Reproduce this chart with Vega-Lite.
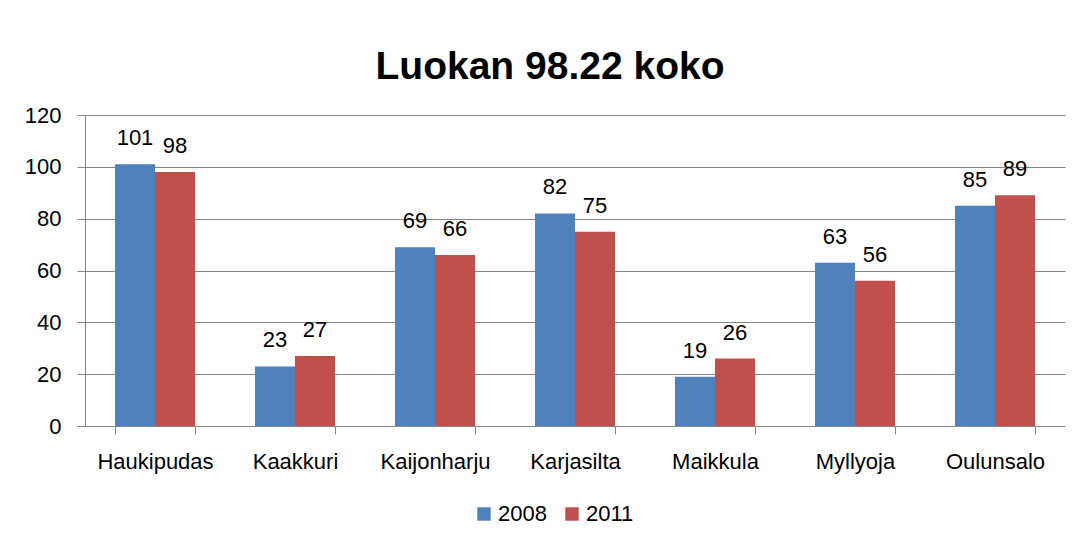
{
  "$schema": "https://vega.github.io/schema/vega-lite/v6.json",
  "autosize": "none",
  "width": 980,
  "height": 311,
  "padding": {"left": 85, "top": 115, "right": 18, "bottom": 121},
  "background": "white",
  "title": {
    "text": "Luokan 98.22 koko",
    "font": "Liberation Sans",
    "fontSize": 39,
    "fontWeight": "bold",
    "color": "black",
    "frame": "group",
    "anchor": "middle",
    "baseline": "alphabetic",
    "offset": -14,
    "dx": -25
  },
  "data": {
    "values": [
      {"area": "Haukipudas", "year": "2008", "value": 101},
      {"area": "Haukipudas", "year": "2011", "value": 98},
      {"area": "Kaakkuri", "year": "2008", "value": 23},
      {"area": "Kaakkuri", "year": "2011", "value": 27},
      {"area": "Kaijonharju", "year": "2008", "value": 69},
      {"area": "Kaijonharju", "year": "2011", "value": 66},
      {"area": "Karjasilta", "year": "2008", "value": 82},
      {"area": "Karjasilta", "year": "2011", "value": 75},
      {"area": "Maikkula", "year": "2008", "value": 19},
      {"area": "Maikkula", "year": "2011", "value": 26},
      {"area": "Myllyoja", "year": "2008", "value": 63},
      {"area": "Myllyoja", "year": "2011", "value": 56},
      {"area": "Oulunsalo", "year": "2008", "value": 85},
      {"area": "Oulunsalo", "year": "2011", "value": 89}
    ]
  },
  "encoding": {
    "x": {
      "field": "area",
      "type": "nominal",
      "sort": null,
      "scale": {"paddingInner": 0.428571, "paddingOuter": 0.214286},
      "axis": {
        "title": null,
        "labelAngle": 0,
        "tickBand": "extent",
        "domainColor": "#868686",
        "tickColor": "#868686",
        "tickSize": 8,
        "labelFont": "Liberation Sans",
        "labelFontSize": 22,
        "labelColor": "black",
        "labelPadding": 17,
        "grid": false
      }
    },
    "xOffset": {"field": "year", "type": "nominal", "scale": {"paddingInner": 0, "paddingOuter": 0}},
    "y": {
      "field": "value",
      "type": "quantitative",
      "scale": {"domain": [0, 120], "nice": false},
      "axis": {
        "title": null,
        "values": [0, 20, 40, 60, 80, 100, 120],
        "domainColor": "#868686",
        "tickColor": "#868686",
        "gridColor": "#868686",
        "tickSize": 8,
        "labelFont": "Liberation Sans",
        "labelFontSize": 22,
        "labelColor": "black",
        "labelPadding": 16
      }
    }
  },
  "layer": [
    {
      "mark": {"type": "bar"},
      "encoding": {
        "color": {
          "field": "year",
          "type": "nominal",
          "scale": {"range": ["#4F81BD", "#C0504D"]},
          "legend": {
            "title": null,
            "orient": "none",
            "direction": "horizontal",
            "legendX": 388,
            "legendY": 388,
            "symbolType": "square",
            "symbolSize": 180,
            "symbolStrokeWidth": 0,
            "labelFont": "Liberation Sans",
            "labelFontSize": 22,
            "labelColor": "black",
            "labelOffset": 3,
            "columnPadding": 14
          }
        }
      }
    },
    {
      "mark": {
        "type": "text",
        "baseline": "alphabetic",
        "dy": -19,
        "font": "Liberation Sans",
        "fontSize": 22,
        "color": "black"
      },
      "encoding": {"text": {"field": "value", "type": "quantitative"}}
    }
  ],
  "config": {"view": {"stroke": null}}
}
